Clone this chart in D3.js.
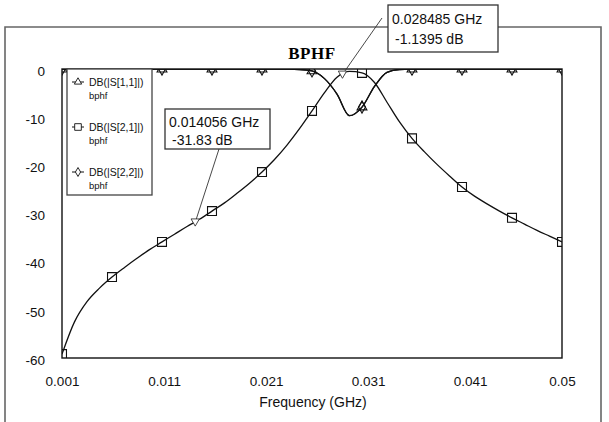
<!DOCTYPE html>
<html><head><meta charset="utf-8">
<script src="https://cdn.jsdelivr.net/npm/d3@7/dist/d3.min.js"></script>
<style>body{margin:0;background:#fff;} svg{display:block;}</style>
</head><body>
<svg id="c" width="609" height="422"></svg>
<script>
// ---------- data ----------
const freqGHz = [0.001,0.002225,0.00345,0.004675,0.0059,0.007125,0.00835,0.009575,0.0108,0.012025,
  0.01325,0.014475,0.0157,0.016925,0.01815,0.019375,0.0206,0.021825,0.02305,0.024275,
  0.0255,0.026725,0.02795,0.029175,0.0304,0.031625,0.03285,0.034075,0.0353,0.036525,
  0.03775,0.038975,0.0402,0.041425,0.04265,0.043875,0.0451,0.046325,0.04755,0.048775,0.05];
const s21dB = [-59.2,-52.5,-48.3,-45.5,-43.2,-41.2,-39.3,-37.5,-35.9,-34.3,
  -32.7,-31.2,-29.5,-27.8,-25.8,-23.7,-21.4,-18.8,-15.8,-12.4,
  -8.7,-4.9,-1.7,-0.5,-0.8,-2.8,-6.9,-11.0,-14.4,-17.2,
  -19.8,-22.2,-24.5,-26.4,-28.0,-29.5,-30.9,-32.2,-33.5,-34.7,-35.9];
const s11dB = [-0.02,-0.02,-0.02,-0.02,-0.02,-0.02,-0.02,-0.02,-0.02,-0.02,
  -0.02,-0.02,-0.02,-0.02,-0.02,-0.02,-0.02,-0.02,-0.04,-0.1,
  -0.4,-2.0,-5.2,-9.7,-7.9,-3.6,-0.7,-0.1,-0.04,-0.02,
  -0.02,-0.02,-0.02,-0.02,-0.02,-0.02,-0.02,-0.02,-0.02,-0.02,-0.02];
const s22dB = [-0.02,-0.02,-0.02,-0.02,-0.02,-0.02,-0.02,-0.02,-0.02,-0.02,
  -0.02,-0.02,-0.02,-0.02,-0.02,-0.02,-0.02,-0.02,-0.04,-0.1,
  -0.4,-2.0,-5.2,-9.7,-7.9,-3.6,-0.7,-0.1,-0.04,-0.02,
  -0.02,-0.02,-0.02,-0.02,-0.02,-0.02,-0.02,-0.02,-0.02,-0.02,-0.02];
const seriesNames = ["DB(|S[1,1]|)","DB(|S[2,1]|)","DB(|S[2,2]|)"];
const seriesSub = ["bphf","bphf","bphf"];
const xTickValues = [0.001,0.011,0.021,0.031,0.041,0.05];
const xTickLabels = ["0.001","0.011","0.021","0.031","0.041","0.05"];
const yTickValues = [0,-10,-20,-30,-40,-50,-60];
const yTickLabels = ["0","-10","-20","-30","-40","-50","-60"];
const markerFreq = [0.014056,0.028485];
const markerDB = [-31.83,-1.1395];
const markerLine1 = ["0.014056 GHz","0.028485 GHz"];
const markerLine2 = ["-31.83 dB","-1.1395 dB"];
const chartTitle = "BPHF";
const xTitle = "Frequency (GHz)";
const markerEvery = 4;

// ---------- layout ----------
const svg = d3.select("#c");
const L = 62, R = 562, T = 69, B = 358;
const x = d3.scaleLinear().domain([0.001,0.05]).range([L,R]);
const y = d3.scaleLinear().domain([-60,0]).range([B,T]);
const sans = "'Liberation Sans', Arial, sans-serif";

// outer frame
svg.append("path").attr("d","M5,430 V27 H601 V430")
  .attr("fill","none").attr("stroke","#666").attr("stroke-width",1.6);

// title
svg.append("text").attr("x",312).attr("y",59).attr("text-anchor","middle")
  .attr("font-family","'Liberation Serif','Times New Roman',serif").attr("font-weight","bold")
  .attr("font-size",17).attr("letter-spacing",0.6).text(chartTitle);

// axes
const gx = svg.append("g").attr("transform",`translate(0,${B})`)
  .call(d3.axisBottom(x).tickValues(xTickValues).tickSize(0).tickPadding(18)
    .tickFormat((d,i)=>xTickLabels[i]));
const gy = svg.append("g").attr("transform",`translate(${L},2)`)
  .call(d3.axisLeft(y).tickValues(yTickValues).tickSize(0).tickPadding(17)
    .tickFormat((d,i)=>yTickLabels[i]));
[gx,gy].forEach(g=>{g.select(".domain").remove();
  g.selectAll("text").attr("font-family",sans).attr("font-size",13.5).attr("fill","#111");});

svg.append("text").attr("x",313).attr("y",407).attr("text-anchor","middle")
  .attr("font-family",sans).attr("font-size",14).attr("fill","#111").text(xTitle);

// clip
svg.append("clipPath").attr("id","pc").append("rect")
  .attr("x",L).attr("y",T).attr("width",R-L).attr("height",B-T);
const plot = svg.append("g").attr("clip-path","url(#pc)");

const line = d3.line().x((d,i)=>x(freqGHz[i])).y(d=>y(d)).curve(d3.curveMonotoneX);
const series = [
  {vals:s11dB, sym:d3.symbolTriangle, size:42},
  {vals:s21dB, sym:d3.symbolSquare, size:80},
  {vals:s22dB, sym:d3.symbolDiamond, size:42}
];
series.forEach(s=>{
  plot.append("path").attr("d",line(s.vals)).attr("fill","none")
    .attr("stroke","#111").attr("stroke-width",1.3);
});
series.forEach(s=>{
  const idx = d3.range(0,freqGHz.length,markerEvery);
  plot.selectAll(null).data(idx).join("path")
    .attr("transform",i=>`translate(${x(freqGHz[i])},${y(s.vals[i])})`)
    .attr("d",d3.symbol(s.sym,s.size)).attr("fill","none")
    .attr("stroke","#111").attr("stroke-width",1.1);
});

// plot border
svg.append("rect").attr("x",L).attr("y",T).attr("width",R-L).attr("height",B-T)
  .attr("fill","none").attr("stroke","#111").attr("stroke-width",1.4);

// annotation markers and boxes
const boxes = [
  {bx:165, by:109, bw:105, bh:40, lx:219, ly:149, t1:127, t2:145},
  {bx:388, by:5, bw:110, bh:47, lx:382, ly:18, t1:24, t2:44}
];
markerFreq.forEach((f,i)=>{
  const b = boxes[i];
  const px = x(f), py = y(markerDB[i]);
  svg.append("line").attr("x1",b.lx).attr("y1",b.ly).attr("x2",px).attr("y2",py)
    .attr("stroke","#333").attr("stroke-width",0.9);
  svg.append("path").attr("transform",`translate(${px},${py-1}) rotate(180)`)
    .attr("d",d3.symbol(d3.symbolTriangle,30)).attr("fill","#fff")
    .attr("stroke","#333").attr("stroke-width",0.9);
  svg.append("rect").attr("x",b.bx).attr("y",b.by).attr("width",b.bw).attr("height",b.bh)
    .attr("fill","#fff").attr("stroke","#333").attr("stroke-width",1.3);
  svg.append("text").attr("x",b.bx+4).attr("y",b.t1).attr("font-family",sans)
    .attr("font-size",14).attr("fill","#111").text(markerLine1[i]);
  svg.append("text").attr("x",b.bx+7).attr("y",b.t2).attr("font-family",sans)
    .attr("font-size",14).attr("fill","#111").text(markerLine2[i]);
});

// legend
const lg = svg.append("g");
lg.append("rect").attr("x",67).attr("y",69).attr("width",85).attr("height",126)
  .attr("fill","#fff").attr("stroke","#444").attr("stroke-width",1.3);
const legY = [82,127,172];
series.forEach((s,i)=>{
  const cy = legY[i];
  lg.append("line").attr("x1",72).attr("x2",84).attr("y1",cy).attr("y2",cy)
    .attr("stroke","#111").attr("stroke-width",1);
  lg.append("path").attr("transform",`translate(78,${cy})`)
    .attr("d",d3.symbol(s.sym,s.size*0.55)).attr("fill","#fff")
    .attr("stroke","#111").attr("stroke-width",0.9);
  lg.append("text").attr("x",89).attr("y",cy+3.5).attr("font-family","'Liberation Sans Narrow','Arial Narrow',"+sans)
    .attr("font-size",10.5).attr("fill","#111").text(seriesNames[i]);
  lg.append("text").attr("x",89).attr("y",cy+17).attr("font-family","'Liberation Sans Narrow','Arial Narrow',"+sans)
    .attr("font-size",9.5).attr("fill","#111").text(seriesSub[i]);
});
</script>
</body></html>
